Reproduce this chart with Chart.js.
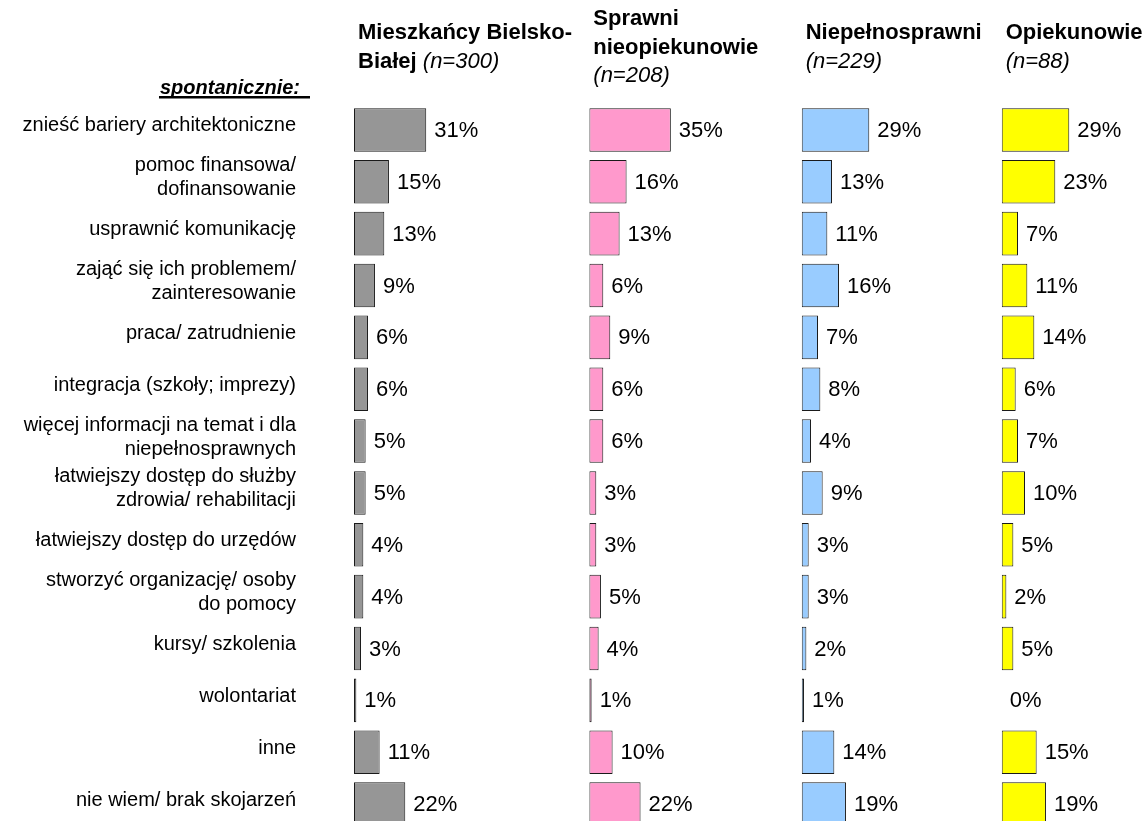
<!DOCTYPE html>
<html>
<head>
<meta charset="utf-8">
<script src="https://cdn.jsdelivr.net/npm/chart.js@4.4.1/dist/chart.umd.min.js"></script>
<style>
  html, body { margin: 0; padding: 0; overflow: hidden; background: #ffffff; }
  #wrap { width: 1147px; height: 821px; overflow: hidden; position: relative; }
  canvas { display: block; }
</style>
</head>
<body>
<div id="wrap"><canvas id="chart" width="1147" height="830"></canvas></div>
<script>
// ---------- DATA ----------
const categories = [
  "znieść bariery architektoniczne",
  ["pomoc finansowa/", "dofinansowanie"],
  "usprawnić komunikację",
  ["zająć się ich problemem/", "zainteresowanie"],
  "praca/ zatrudnienie",
  "integracja (szkoły; imprezy)",
  ["więcej informacji na temat i dla", "niepełnosprawnych"],
  ["łatwiejszy dostęp do służby", "zdrowia/ rehabilitacji"],
  "łatwiejszy dostęp do urzędów",
  ["stworzyć organizację/ osoby", "do pomocy"],
  "kursy/ szkolenia",
  "wolontariat",
  "inne",
  "nie wiem/ brak skojarzeń"
];
const mieszkancy        = [31, 15, 13, 9, 6, 6, 5, 5, 4, 4, 3, 1, 11, 22];
const sprawniNieopiek   = [35, 16, 13, 6, 9, 6, 6, 3, 3, 5, 4, 1, 10, 22];
const niepelnosprawni   = [29, 13, 11, 16, 7, 8, 4, 9, 3, 3, 2, 1, 14, 19];
const opiekunowie       = [29, 23, 7, 11, 14, 6, 7, 10, 5, 2, 5, 0, 15, 19];

const groupTitleLines = [
  ["Mieszkańcy Bielsko-", "Białej"],
  ["Sprawni", "nieopiekunowie"],
  ["Niepełnosprawni"],
  ["Opiekunowie"]
];
const groupN = [300, 208, 229, 88];
const sectionLabel = "spontanicznie:";

// ---------- LAYOUT / STYLE ----------
const FONT = '"Liberation Sans", Arial, Helvetica, sans-serif';
const panelWidths = [235.3, 212.4, 200, 145.3];
const pxPerPercent = 2.33;
const colors = ['#969696', '#FF99CC', '#99CCFF', '#FFFF00'];
const axisIds = ['x1', 'x2', 'x3', 'x4'];
const seriesList = [mieszkancy, sprawniNieopiek, niepelnosprawni, opiekunowie];

Chart.defaults.font.family = FONT;
Chart.defaults.color = '#000';

const datasets = seriesList.map((vals, i) => ({
  label: groupTitleLines[i].join(' '),
  data: vals,
  xAxisID: axisIds[i],
  backgroundColor: colors[i],
  borderColor: '#1a1a1a',
  borderWidth: 1,
  borderSkipped: false,
  grouped: false,
  barPercentage: 0.84,
  categoryPercentage: 1.0
}));

const scales = {
  y: {
    type: 'category',
    position: 'left',
    offset: true,
    grid: { display: false, drawTicks: false },
    border: { display: false },
    ticks: {
      autoSkip: false,
      color: '#000',
      font: { size: 20, family: FONT, lineHeight: 1.2 },
      padding: 58,
      labelOffset: -4
    },
    afterFit(scale) {
      scale.width = 354;
      scale.paddingTop = 0;
      scale.paddingBottom = 0;
    }
  }
};
axisIds.forEach((id, i) => {
  scales[id] = {
    type: 'linear',
    position: 'bottom',
    stack: 'panels',
    stackWeight: panelWidths[i],
    min: 0,
    max: panelWidths[i] / pxPerPercent,
    display: false
  };
});

const valueLabelPlugin = {
  id: 'valueLabels',
  afterDatasetsDraw(chart) {
    const ctx = chart.ctx;
    ctx.save();
    ctx.font = '22px ' + FONT;
    ctx.fillStyle = '#000';
    ctx.textAlign = 'left';
    ctx.textBaseline = 'middle';
    chart.data.datasets.forEach((ds, di) => {
      const meta = chart.getDatasetMeta(di);
      meta.data.forEach((el, j) => {
        ctx.fillText(ds.data[j] + '%', el.x + 8, el.y + 1);
      });
    });
    ctx.restore();
  }
};

const headerPlugin = {
  id: 'headers',
  afterDraw(chart) {
    const ctx = chart.ctx;
    const boldFont = 'bold 22px ' + FONT;
    const italicFont = 'italic 22px ' + FONT;
    ctx.save();
    ctx.fillStyle = '#000';
    ctx.textBaseline = 'middle';
    ctx.textAlign = 'left';
    axisIds.forEach((id, i) => {
      const sc = chart.scales[id];
      const x0 = sc.left + 4;
      const maxW = sc.right - x0 - 2;
      const lines = groupTitleLines[i].map(t => [{ t: t, f: boldFont }]);
      const nTxt = '(n=' + groupN[i] + ')';
      ctx.font = boldFont;
      const lastW = ctx.measureText(lines[lines.length - 1][0].t + ' ').width;
      ctx.font = italicFont;
      const nW = ctx.measureText(nTxt).width;
      if (lastW + nW <= maxW) {
        lines[lines.length - 1].push({ t: ' ' + nTxt, f: italicFont });
      } else {
        lines.push([{ t: nTxt, f: italicFont }]);
      }
      const lh = 28.5, cy = 47.5;
      const y0 = cy - (lines.length - 1) * lh / 2;
      lines.forEach((segs, k) => {
        let x = x0;
        segs.forEach(s => {
          ctx.font = s.f;
          ctx.fillText(s.t, x, y0 + k * lh);
          x += ctx.measureText(s.t).width;
        });
      });
    });
    // section label
    const yScale = chart.scales.y;
    const rx = yScale.right - 54;
    ctx.font = 'italic bold 20px ' + FONT;
    ctx.textAlign = 'right';
    ctx.fillText(sectionLabel, rx, 88);
    const w = ctx.measureText(sectionLabel).width;
    ctx.fillRect(rx - w - 1, 96, w + 11, 2.5);
    ctx.restore();
  }
};

new Chart(document.getElementById('chart'), {
  type: 'bar',
  data: { labels: categories, datasets: datasets },
  options: {
    indexAxis: 'y',
    responsive: false,
    animation: false,
    layout: { padding: { top: 104, left: 0, right: 0, bottom: 0 } },
    plugins: {
      legend: { display: false },
      tooltip: { enabled: false },
      title: { display: false }
    },
    scales: scales
  },
  plugins: [valueLabelPlugin, headerPlugin]
});
</script>
</body>
</html>
